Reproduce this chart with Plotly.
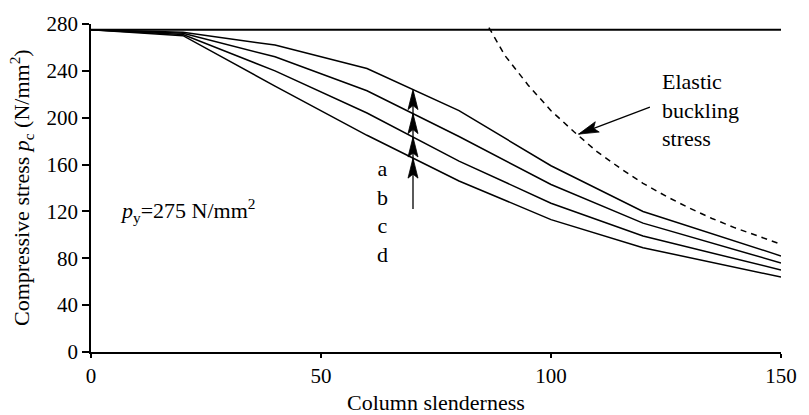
import math
import numpy as np
import plotly.graph_objects as go

# ---- data ----
slenderness = [0, 20, 40, 60, 80, 100, 120, 150]
curve_a = [275, 273, 262, 242, 206, 159, 120, 82]
curve_b = [275, 272, 252, 223, 184, 143, 110, 76]
curve_c = [275, 271, 240, 204, 163, 127, 99, 70]
curve_d = [275, 270, 227, 185, 146, 113, 89, 64]

elastic_x = [86.5, 90, 95, 100, 105, 110, 115, 120, 125, 130, 135, 140, 145, 150]
elastic_y = [277, 253, 228, 206, 188, 171, 157, 144, 133, 123, 114, 106, 99, 92]

py_x = [0, 150]
py_y = [275, 275]

arrow_x = 70
arrow_base = 122
letters = ["a", "b", "c", "d"]

elastic_arrow_tail = (121.5, 209)
elastic_arrow_tip = (106, 186)

FONT = "Liberation Serif, Times New Roman, serif"
FS = 22
TFS = 21

W, H = 809, 415
ML, MR, MT, MB = 91, 21, 14, 63
XR, YR = [0, 150], [0, 280]
sx = (W - ML - MR) / (XR[1] - XR[0])
sy = (H - MT - MB) / (YR[1] - YR[0])


def head_path(dx, dy, length=20, width=10, notch=5):
    """Arrowhead path in pixel units, tip at origin, pointing along (dx, dy) (y up)."""
    n = math.hypot(dx, dy)
    ux, uy = dx / n, dy / n
    px, py = -uy, ux
    bx, by = -length * ux, -length * uy
    p1 = (bx + px * width / 2, by + py * width / 2)
    p2 = (bx + ux * notch, by + uy * notch)
    p3 = (bx - px * width / 2, by - py * width / 2)
    return "M0,0 L{:.2f},{:.2f} L{:.2f},{:.2f} L{:.2f},{:.2f} Z".format(*p1, *p2, *p3)


fig = go.Figure()
for ys in [curve_a, curve_b, curve_c, curve_d]:
    fig.add_trace(go.Scatter(x=slenderness, y=ys, mode="lines",
                             line=dict(color="black", width=1.5), showlegend=False))
fig.add_trace(go.Scatter(x=py_x, y=py_y, mode="lines",
                         line=dict(color="black", width=2), showlegend=False))
fig.add_trace(go.Scatter(x=elastic_x, y=elastic_y, mode="lines",
                         line=dict(color="black", width=1.5, dash="6px,5px"), showlegend=False))

shapes = []
# vertical arrow through the curves at slenderness 70
tips = [float(np.interp(arrow_x, slenderness, c)) for c in [curve_d, curve_c, curve_b, curve_a]]
shapes.append(dict(type="line", xref="x", yref="y", x0=arrow_x, x1=arrow_x,
                   y0=arrow_base, y1=tips[-1] - 2, line=dict(color="black", width=1.3)))
for t in tips:
    shapes.append(dict(type="path", xref="x", yref="y", xsizemode="pixel", ysizemode="pixel",
                       xanchor=arrow_x, yanchor=t, path=head_path(0, 1, 20, 10, 4),
                       fillcolor="black", line=dict(color="black", width=0.8)))

# elastic buckling arrow
(tx, ty), (hx, hy) = elastic_arrow_tail, elastic_arrow_tip
shapes.append(dict(type="line", xref="x", yref="y", x0=tx, y0=ty, x1=hx, y1=hy,
                   line=dict(color="black", width=1.3)))
shapes.append(dict(type="path", xref="x", yref="y", xsizemode="pixel", ysizemode="pixel",
                   xanchor=hx, yanchor=hy,
                   path=head_path((hx - tx) * sx, (hy - ty) * sy, 20, 11, 4),
                   fillcolor="black", line=dict(color="black", width=0.8)))

annotations = []
annotations.append(dict(x=63.3, y=120, xref="x", yref="y", showarrow=False,
                        text="<br>".join(letters), align="center",
                        font=dict(family=FONT, size=FS, color="black")))

annotations.append(dict(x=123.8, y=207, xref="x", yref="y", showarrow=False,
                        xanchor="left", align="left",
                        text="Elastic<br>buckling<br>stress",
                        font=dict(family=FONT, size=FS, color="black")))

annotations.append(dict(x=5.9, y=121, xref="x", yref="y", showarrow=False, xanchor="left",
                        text="<i>p</i><sub>y</sub>=275 N/mm<sup>2</sup>",
                        font=dict(family=FONT, size=FS, color="black")))

annotations.append(dict(x=0, y=0.5, xref="paper", yref="paper", xshift=-70,
                        showarrow=False, textangle=-90, xanchor="center", yanchor="middle",
                        text="Compressive stress <i>p</i><sub>c</sub> (N/mm<sup>2</sup>)",
                        font=dict(family=FONT, size=FS, color="black")))
annotations.append(dict(x=0.5, y=0, xref="paper", yref="paper", yshift=-50,
                        showarrow=False, xanchor="center", yanchor="middle",
                        text="Column slenderness",
                        font=dict(family=FONT, size=FS, color="black")))

fig.update_layout(
    width=W, height=H,
    margin=dict(l=ML, r=MR, t=MT, b=MB),
    paper_bgcolor="white", plot_bgcolor="white",
    annotations=annotations, shapes=shapes,
    font=dict(family=FONT, size=FS, color="black"),
)
fig.update_xaxes(range=XR, tickvals=[0, 50, 100, 150], showline=True,
                 linecolor="black", linewidth=1.5, ticks="outside", ticklen=4,
                 tickwidth=1.5, tickcolor="black", showgrid=False, zeroline=False,
                 tickfont=dict(family=FONT, size=TFS, color="black"))
fig.update_yaxes(range=YR, tickvals=[0, 40, 80, 120, 160, 200, 240, 280],
                 showline=True, linecolor="black", linewidth=1.5, ticks="outside",
                 ticklen=7, tickwidth=1.5, tickcolor="black", showgrid=False,
                 zeroline=False, tickfont=dict(family=FONT, size=TFS, color="black"))

fig.write_html("out.html")
